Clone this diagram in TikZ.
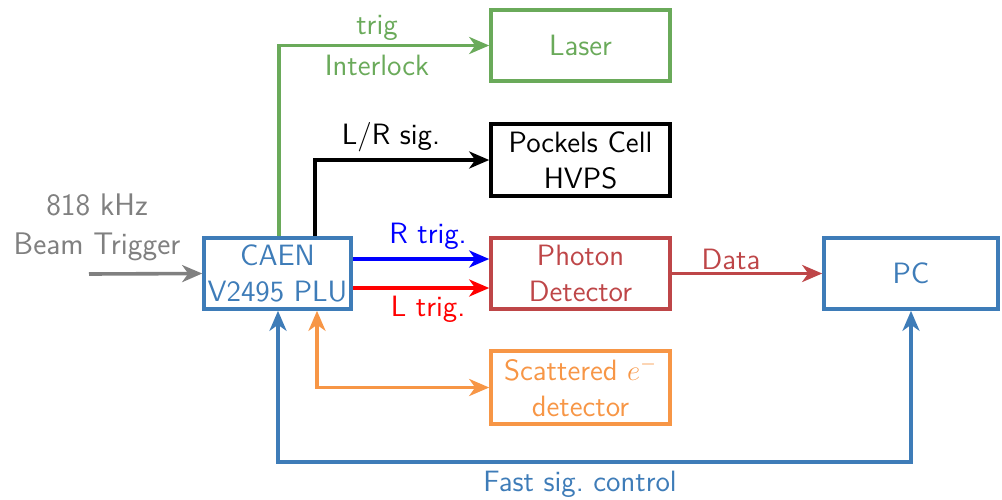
\documentclass[tikz,border=0pt]{standalone}
\usepackage{fontspec}
\usetikzlibrary{arrows.meta}
\definecolor{cgreen}{RGB}{106,170,90}
\definecolor{cblue}{RGB}{62,124,184}
\definecolor{cred}{RGB}{190,70,72}
\definecolor{corange}{RGB}{247,150,70}
\definecolor{cgray}{RGB}{128,128,128}
\begin{document}
\begin{tikzpicture}[x=0.5pt,y=-0.5pt,
  every node/.style={font=\fontsize{14.7}{18}\selectfont\sffamily},
  blk/.style={draw,line width=1.8pt,align=center,minimum width=89.5pt,minimum height=35.5pt,inner sep=0pt},
  conn/.style={line width=1.8pt,-{Stealth[length=10pt,width=8.5pt,inset=3pt]}},
  conn2/.style={line width=1.8pt,{Stealth[length=10pt,width=8.5pt,inset=3pt]}-{Stealth[length=10pt,width=8.5pt,inset=3pt]}},
  lbl/.style={inner sep=0pt,align=center}]
\useasboundingbox (0,0) rectangle (1002,499);
% boxes
\node[blk,draw=cblue,text=cblue,minimum width=73.5pt] (caen) at (277.5,273.5) {CAEN\\V2495 PLU};
\node[blk,draw=cgreen,text=cgreen] (laser) at (580.5,45.5) {Laser};
\node[blk,draw=black,text=black,minimum height=36pt] (pockels) at (580.5,160) {Pockels Cell\\HVPS};
\node[blk,draw=cred,text=cred] (photon) at (580.5,273.5) {Photon\\Detector};
\node[blk,draw=cblue,text=cblue,minimum width=87pt] (pc) at (911,273.5) {PC};
\node[blk,draw=corange,text=corange,minimum height=36.5pt] (scat) at (580.5,387.5) {Scattered $e^-$\\detector};
% beam trigger
\coordinate (bt) at (89,274);
\node[lbl,text=cgray,font=\fontsize{15.6}{19.5}\selectfont\sffamily] (btl) at (97,227) {818 kHz\\Beam Trigger};
\draw[conn,cgray] (bt) -- (caen.west);
% laser
\draw[conn,cgreen] ([xshift=0.75pt]caen.north) |- (laser.west);
\node[lbl,text=cgreen] (trigl) at (377,28) {trig};
\node[lbl,text=cgreen] (intl) at (377,65) {Interlock};
% pockels
\draw[conn,black] ([xshift=18.75pt]caen.north) |- (pockels.west);
\node[lbl,text=black] (lrl) at (391,137) {L/R sig.};
% R / L trig
\draw[conn,blue] ([yshift=7.25pt]caen.east) -- ([yshift=7.25pt]photon.west);
\node[lbl,text=blue] (rl) at (428,236) {R trig.};
\draw[conn,red] ([yshift=-7.25pt]caen.east) -- ([yshift=-7.25pt]photon.west);
\node[lbl,text=red] (ll) at (428,309) {L trig.};
% data
\draw[conn,cred] (photon.east) -- (pc.west);
\node[lbl,text=cred] (dl) at (731,259) {Data};
% scattered
\draw[conn2,corange] ([xshift=19.75pt]caen.south) |- (scat.west);
% fast control
\coordinate (fy) at (0,462);
\draw[conn2,cblue] ([xshift=0.25pt]caen.south) |- (fy -| pc.south) -- (pc.south);
\node[lbl,text=cblue] (fl) at (580,484) {Fast sig.\ control};
\end{tikzpicture}
\end{document}
